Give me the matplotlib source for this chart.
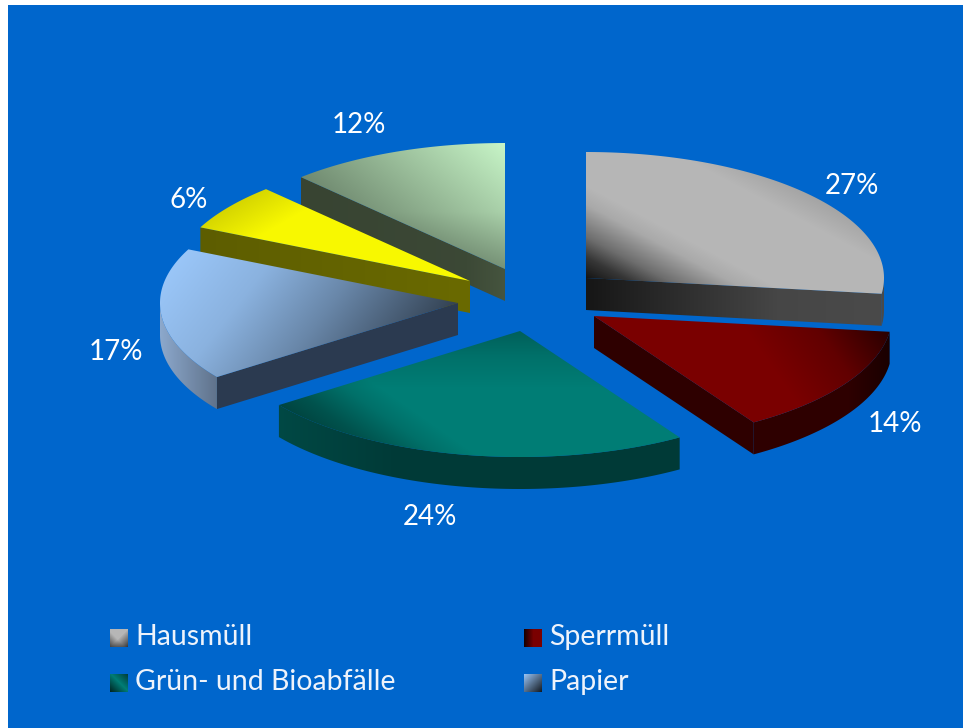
import numpy as np
import matplotlib
matplotlib.use('Agg')
import matplotlib.pyplot as plt
from matplotlib.colors import to_rgb
from matplotlib.patches import Polygon, Rectangle

# Data
categories = ['Hausmüll', 'Sperrmüll', 'Grün- und Bioabfälle', 'Papier', 'Gelbe Tonne', 'Glas']
shares = [27, 14, 24, 17, 6, 12]
legend_names = ['Hausmüll', 'Sperrmüll', 'Grün- und Bioabfälle', 'Papier']

# Layout in pixels
apex_x = [586, 594, 520, 458, 470, 505]
apex_y = [278, 316, 331, 303, 281, 269]
rx, ry, depth = 298, 126, 32
label_x = [852, 895, 430, 116, 189, 359]
label_y = [186, 424, 517, 352, 200, 125]
draw_order = [5, 4, 0, 3, 1, 2]
legend_x = [110, 524, 110, 524]
legend_y = [629, 629, 674, 674]

# Colours: base colour and (angle, stops) shading
top_base = ['#b6b6b6', '#7a0000', '#007d75', '#9ac6f8', '#f8f800', '#c8f6c8']
top_shade = [
    [(62, [(0, .12), (.1, .3), (.2, .6), (.36, .93), (.45, 1), (.85, 1), (1, .9)])],
    [(35, [(0, 1), (.5, 1), (.75, .8), (1, .33)])],
    [(55, [(0, .55), (.1, .66), (.25, .9), (.35, 1), (1, 1)]),
     (90, [(0, 1), (.55, 1), (.8, .9), (1, .76)])],
    [(-38, [(0, 1), (.3, .9), (.6, .68), (1, .33)])],
    [(-60, [(0, .86), (.22, 1), (1, 1)])],
    [(50, [(0, .56), (.5, .78), (1, 1)]), (90, [(0, .82), (.45, 1), (1, 1)])],
]
wall_base = ['#4a4a4a', '#2e0000', '#003a37', '#2b3a50', '#6a6a00', '#46553f']
wall_shade = [
    [(0, [(0, .3), (.65, .95), (1, 1)])],
    [],
    [],
    [],
    [(0, [(0, .88), (1, 1)])],
    [(0, [(0, .8), (.8, .85), (1, 1)])],
]
rim_base = ['#4a4a4a', '#2e0000', '#003a37', '#8ca8cc', '#6a6a00', '#46553f']
rim_shade = [
    [],
    [(0, [(0, 1), (.7, 1), (1, .55)])],
    [(0, [(0, 1.25), (.3, 1), (1, 1)])],
    [(0, [(0, 1), (1, .68)])],
    [],
    [],
]
swatch_shade = [
    [(-45, [(0, 1), (.5, 1), (1, .3)]), (45, [(0, .4), (.4, 1)])],
    [(0, [(0, .2), (.5, 1), (1, 1)])],
    [(45, [(0, .3), (.5, 1), (1, .45)])],
    [(-45, [(0, 1), (1, .12)])],
]

plt.rcParams['font.family'] = ['Lato', 'DejaVu Sans']

fig = plt.figure(figsize=(9.63, 7.28), dpi=100, facecolor='white')
ax = fig.add_axes([0, 0, 1, 1])
ax.add_patch(Rectangle((8, 5), 955, 723, fc='#0066cc', ec='none', zorder=0))


def paint(xs, ys, base, shades, z):
    x0, x1 = np.floor(min(xs)) - 1, np.ceil(max(xs)) + 1
    y0, y1 = np.floor(min(ys)) - 1, np.ceil(max(ys)) + 1
    gx, gy = np.meshgrid(np.arange(x0, x1 + 1), np.arange(y0, y1 + 1))
    factor = np.ones_like(gx, dtype=float)
    for angle, stops in shades:
        dx, dy = np.cos(np.radians(angle)), -np.sin(np.radians(angle))
        corners = np.array(xs) * dx + np.array(ys) * dy
        t = (gx * dx + gy * dy - corners.min()) / (corners.max() - corners.min())
        factor *= np.interp(t, [s[0] for s in stops], [s[1] for s in stops])
    rgb = np.clip(np.dstack([factor * c for c in to_rgb(base)]), 0, 1)
    im = ax.imshow(rgb, extent=(x0 - .5, x1 + .5, y1 + .5, y0 - .5), aspect='auto',
                   interpolation='bilinear', zorder=z)
    clip = Polygon(np.column_stack([xs, ys]), closed=True, fc='none', ec='none', zorder=z)
    ax.add_patch(clip)
    im.set_clip_path(clip)


# Wedge angles come from the shares, clockwise from 12 o'clock
edges = np.cumsum([0] + shares) / sum(shares) * 360.0

for k, i in enumerate(draw_order):
    a0, a1 = edges[i], edges[i + 1]
    cx, cy = apex_x[i], apex_y[i]
    z = 2 + k * 3

    def rim(a):
        r = np.radians(a)
        return cx + rx * np.sin(r), cy - ry * np.cos(r)

    # radial wall
    wall_angle = a1 if a1 < 180 else (a0 if a0 > 180 else None)
    if wall_angle is not None:
        ex, ey = rim(wall_angle)
        paint([cx, ex, ex, cx], [cy, ey, ey + depth, cy + depth], wall_base[i], wall_shade[i], z)

    # outer rim
    lo, hi = max(a0, 90), min(a1, 270)
    if hi > lo:
        ang = np.linspace(lo, hi, 80)
        ax_, ay_ = rim(ang)
        paint(list(ax_) + list(ax_[::-1]), list(ay_) + list(ay_[::-1] + depth),
              rim_base[i], rim_shade[i], z + 1)

    # top face
    ang = np.linspace(a0, a1, 120)
    tx, ty = rim(ang)
    paint([cx] + list(tx), [cy] + list(ty), top_base[i], top_shade[i], z + 2)

    ax.text(label_x[i], label_y[i], f'{shares[i]}%', color='white', fontsize=20,
            ha='center', va='center', zorder=40)

# Legend
for i, name in enumerate(legend_names):
    sx, sy = legend_x[i], legend_y[i]
    paint([sx, sx + 18, sx + 18, sx], [sy, sy, sy + 18, sy + 18], top_base[i], swatch_shade[i], 40)
    ax.text(sx + 25, sy + 8, name, color='#eef3fb', fontsize=20.5, ha='left', va='center', zorder=40)

ax.set_xlim(0, 963)
ax.set_ylim(728, 0)
ax.axis('off')
fig.savefig('out.png', dpi=100, facecolor='white')
